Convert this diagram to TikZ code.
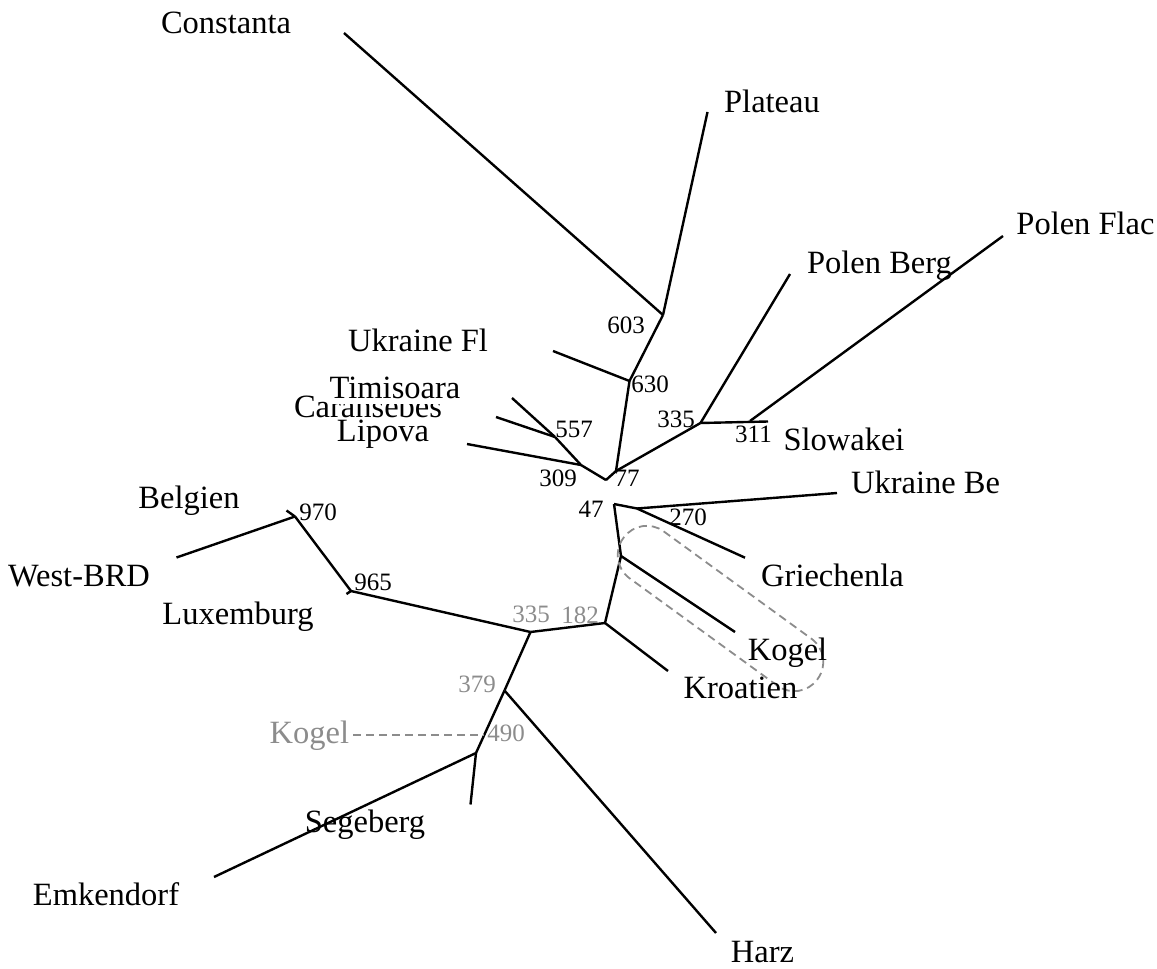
\documentclass[tikz,border=0pt]{standalone}
\usepackage{fontspec}
\setmainfont{Liberation Serif}
\definecolor{gk}{RGB}{140,140,140}
\begin{document}
\begin{tikzpicture}[x=1pt,y=-1pt,
  edge/.style={line width=2.4pt},
  lab/.style={font=\fontsize{32.5}{38}\selectfont, inner sep=0pt, anchor=base},
  num/.style={font=\fontsize{25}{30}\selectfont, inner sep=0pt, anchor=base},
  gtext/.style={text=gk},
  gdash/.style={draw=gk, line width=1.8pt, dash pattern=on 8pt off 5pt}]
\useasboundingbox (0,0) rectangle (1157,969);
% ---------- tree vertices ----------
\coordinate (n603) at (663,315);
\coordinate (n630) at (629.5,381);
\coordinate (n77) at (616,471);
\coordinate (nV) at (606,480);
\coordinate (n309) at (581,465);
\coordinate (n557) at (555,437);
\coordinate (n335) at (700.5,423);
\coordinate (n311) at (750,421);
\coordinate (n47) at (614,504);
\coordinate (n270) at (637,508.5);
\coordinate (nKog) at (621,556);
\coordinate (n182) at (605,623);
\coordinate (n335g) at (530.5,632);
\coordinate (n965) at (351,591);
\coordinate (n970) at (295,516.5);
\coordinate (n379) at (504.5,690.5);
\coordinate (nSeg) at (476,753);
\coordinate (n490) at (484,735);
% leaf ends
\coordinate (tConst) at (344,33);
\coordinate (tPlat) at (707.5,112);
\coordinate (tUkrFl) at (553,351);
\coordinate (tTimi) at (512,398);
\coordinate (tCara) at (496,417);
\coordinate (tLip) at (467,444);
\coordinate (tPB) at (790,274);
\coordinate (tPF) at (1003,236);
\coordinate (tSlow) at (768,421.5);
\coordinate (tUkrBe) at (837,493);
\coordinate (tGriech) at (745,557.7);
\coordinate (tKog) at (735,632);
\coordinate (tKroat) at (668,671);
\coordinate (tLux) at (346.5,594);
\coordinate (tBelg) at (286.5,510.5);
\coordinate (tWest) at (176.5,557.5);
\coordinate (tHarz) at (716,933);
\coordinate (tEmk) at (214,877);
\coordinate (tSeg) at (470.5,804.5);
% ---------- edges: upper part ----------
\draw[edge] (tConst) -- (n603);
\draw[edge] (tPlat) -- (n603);
\draw[edge] (n603) -- (n630);
\draw[edge] (tUkrFl) -- (n630);
\draw[edge] (n630) -- (n77);
\draw[edge] (n335) -- (n77);
\draw[edge] (n77) -- (nV);
\draw[edge] (nV) -- (n309);
\draw[edge] (n309) -- (n557);
\draw[edge] (n557) -- (tTimi);
\draw[edge] (n557) -- (tCara);
\draw[edge] (n309) -- (tLip);
\draw[edge] (n335) -- (tPB);
\draw[edge] (n335) -- (tSlow);
\draw[edge] (n311) -- (tPF);
% ---------- edges: lower part ----------
\draw[edge] (n47) -- (n270);
\draw[edge] (n270) -- (tUkrBe);
\draw[edge] (n270) -- (tGriech);
\draw[edge] (n47) -- (nKog);
\draw[edge] (nKog) -- (tKog);
\draw[edge] (nKog) -- (n182);
\draw[edge] (n182) -- (tKroat);
\draw[edge] (n182) -- (n335g);
\draw[edge] (n335g) -- (n965);
\draw[edge] (n965) -- (tLux);
\draw[edge] (n965) -- (n970);
\draw[edge] (n970) -- (tBelg);
\draw[edge] (n970) -- (tWest);
\draw[edge] (n335g) -- (n379);
\draw[edge] (n379) -- (tHarz);
\draw[edge] (n379) -- (nSeg);
\draw[edge] (nSeg) -- (tEmk);
\draw[edge] (nSeg) -- (tSeg);
% ---------- dashed Kogel outline ----------
\begin{scope}[shift={(720.5,608.5)}, rotate=-36]
  \draw[gdash, rounded corners=28.5pt] (-120,-29) rectangle (120,29);
\end{scope}
% ---------- leaf labels ----------
\node[lab] (lConst) at (226,33) {Constanta};
\node[lab] (lPlat) at (772,112) {Plateau};
\node[lab] (lPF) at (1085.5,234) {Polen Flac};
\node[lab] (lPB) at (879.5,273) {Polen Berg};
\node[lab] (lUkrFl) at (418,351) {Ukraine Fl};
\node[lab] (lCara) at (368,417) {Caransebes};
\node[lab, fill=white, text depth=6pt] (lTimi) at (395,398) {Timisoara};
\node[lab] (lLip) at (383,441.7) {Lipova};
\node[lab] (lSlow) at (844,450) {Slowakei};
\node[lab] (lUkrBe) at (925.5,493.3) {Ukraine Be};
\node[lab] (lGriech) at (832.5,586.7) {Griechenla};
\node[lab] (lBelg) at (189,508) {Belgien};
\node[lab] (lWest) at (79,586.7) {West-BRD};
\node[lab] (lLux) at (238,624) {Luxemburg};
\node[lab] (lKog) at (787.5,660) {Kogel};
\node[lab] (lKroat) at (740.5,698) {Kroatien};
\node[lab, gtext] (lKogG) at (309.4,743) {Kogel};
\node[lab] (lSeg) at (365,832) {Segeberg};
\node[lab] (lEmk) at (106,905) {Emkendorf};
\node[lab] (lHarz) at (762.5,962) {Harz};
\draw[gdash] ([xshift=4pt]lKogG.east |- n490) -- (n490);
% ---------- branch numbers ----------
\node[num] (b603) at (626,333) {603};
\node[num] (b630) at (650,392) {630};
\node[num] (b557) at (574,437) {557};
\node[num] (b309) at (558,486) {309};
\node[num] (b77) at (627,486) {77};
\node[num] (b335) at (676,427) {335};
\node[num] (b311) at (753.5,442) {311};
\node[num] (b47) at (591,517) {47};
\node[num] (b270) at (688,525) {270};
\node[num] (b970) at (318,520.7) {970};
\node[num] (b965) at (373,590) {965};
\node[num, gtext] (b335g) at (531,622.7) {335};
\node[num, gtext] (b182) at (580,623) {182};
\node[num, gtext] (b379) at (477,692.7) {379};
\node[num, gtext] (b490) at (506,741.7) {490};
\end{tikzpicture}
\end{document}
